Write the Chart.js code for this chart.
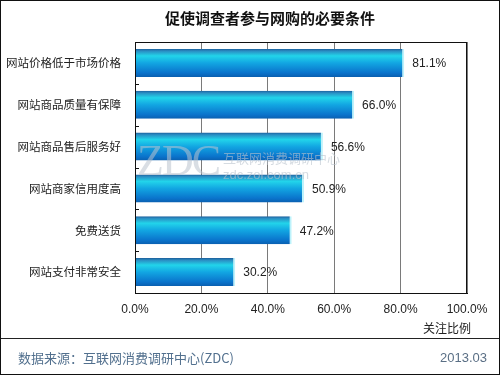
<!DOCTYPE html>
<html>
<head>
<meta charset="utf-8">
<script src="https://cdn.jsdelivr.net/npm/chart.js@4/dist/chart.umd.min.js"></script>
<style>
  html, body { margin:0; padding:0; background:#fff; }
  #wrap { position:relative; width:500px; height:375px; box-sizing:border-box; border:1px solid #111; overflow:hidden; font-family:"Noto Sans CJK SC", sans-serif; }
  #c { position:absolute; left:-1px; top:-1px; }
  .t { position:absolute; white-space:nowrap; }
</style>
</head>
<body>
<div id="wrap">
  <canvas id="c" width="500" height="338"></canvas>
  <div class="t" style="left:164px; top:6px; font-size:15px; font-weight:bold; color:#111;">促使调查者参与网购的必要条件</div>
  <div class="t" style="left:136px; top:138px; font-family:'Liberation Serif',serif; font-size:44px; letter-spacing:-2px; color:rgba(185,195,205,0.55); line-height:44px;">ZDC</div>
  <div class="t" style="left:222px; top:150px; font-size:13px; color:rgba(185,195,205,0.6); line-height:14px;">互联网消费调研中心</div>
  <div class="t" style="left:222px; top:167px; font-family:'Liberation Sans',sans-serif; font-size:13px; color:rgba(185,195,205,0.6); line-height:14px;">zdc.zol.com.cn</div>
  <div class="t" style="left:422px; top:319px; font-size:12px; color:#222; line-height:16px;">关注比例</div>
  <div style="position:absolute; left:0; top:337px; width:500px; height:1px; background:#222;"></div>
  <div class="t" style="left:17px; top:348px; font-size:13px; color:#52708e; line-height:18px;">数据来源：互联网消费调研中心(ZDC)</div>
  <div class="t" style="right:12px; top:348px; font-family:'Liberation Sans',sans-serif; font-size:13px; color:#5a6f85; line-height:18px;">2013.03</div>
</div>
<script>
const categories = ["网站价格低于市场价格", "网站商品质量有保障", "网站商品售后服务好", "网站商家信用度高", "免费送货", "网站支付非常安全"];
const values = [81.1, 66.0, 56.6, 50.9, 47.2, 30.2];
const xTicks = [0, 20, 40, 60, 80, 100];

const barStyle = {
  id: 'barStyle',
  beforeDatasetsDraw(chart) {
    const ctx = chart.ctx;
    chart.getDatasetMeta(0).data.forEach(el => {
      const top = el.y - el.height / 2, bot = el.y + el.height / 2;
      const g = ctx.createLinearGradient(0, top, 0, bot);
      g.addColorStop(0, '#1d5f9c');
      g.addColorStop(0.08, '#2a8fc4');
      g.addColorStop(0.25, '#22d4ea');
      g.addColorStop(0.5, '#12a6e2');
      g.addColorStop(0.85, '#0a74cc');
      g.addColorStop(1, '#0a5fb0');
      el.options = Object.assign({}, el.options, { backgroundColor: g });
    });
  },
  afterDatasetsDraw(chart) {
    const ctx = chart.ctx;
    const a = chart.chartArea;
    ctx.save();
    ctx.font = '12px "Liberation Sans", sans-serif';
    ctx.fillStyle = '#222';
    ctx.textAlign = 'left';
    ctx.textBaseline = 'middle';
    chart.getDatasetMeta(0).data.forEach((el, i) => {
      ctx.fillText(values[i].toFixed(1) + '%', el.x + 8, el.y + 1);
    });
    ctx.strokeStyle = '#111';
    ctx.lineWidth = 1;
    ctx.strokeRect(Math.round(a.left) + 0.5, Math.round(a.top) + 0.5, Math.round(a.right - a.left) - 1, Math.round(a.bottom - a.top));
    const ys = chart.scales.y;
    for (let i = 1; i < categories.length; i++) {
      const y = Math.round((ys.getPixelForValue(i - 1) + ys.getPixelForValue(i)) / 2) + 0.5;
      ctx.beginPath();
      ctx.moveTo(a.left, y);
      ctx.lineTo(a.left + 4, y);
      ctx.stroke();
    }
    ctx.restore();
  }
};

new Chart(document.getElementById('c'), {
  type: 'bar',
  data: {
    labels: categories,
    datasets: [{
      data: values,
      backgroundColor: () => '#12a6e2',
      borderColor: '#bdf2fb',
      borderWidth: { right: 2, top: 0, bottom: 0, left: 0 },
      borderSkipped: 'left',
      barPercentage: 0.67,
      categoryPercentage: 1
    }]
  },
  options: {
    indexAxis: 'y',
    responsive: false,
    animation: false,
    devicePixelRatio: 1,
    layout: { padding: { top: 42, right: 33, left: 0, bottom: 0 } },
    plugins: { legend: { display: false }, title: { display: false }, tooltip: { enabled: false } },
    scales: {
      x: {
        min: 0, max: 100,
        afterBuildTicks(s) { s.ticks = xTicks.map(v => ({ value: v })); },
        afterFit(s) { s.height = 45; },
        grid: { color: '#7a7a7a', lineWidth: 1, drawTicks: false },
        border: { display: true, color: '#111' },
        ticks: {
          padding: 9,
          color: '#222',
          font: { family: '"Liberation Sans", sans-serif', size: 12 },
          maxRotation: 0,
          autoSkip: false,
          callback: v => Number(v).toFixed(1) + '%'
        }
      },
      y: {
        afterFit(s) { s.width = 135; },
        grid: { display: false },
        border: { display: true, color: '#111' },
        ticks: {
          padding: 6,
          color: '#222',
          font: { family: '"Noto Sans CJK SC", sans-serif', size: 11.5 }
        }
      }
    }
  },
  plugins: [barStyle]
});
</script>
</body>
</html>
